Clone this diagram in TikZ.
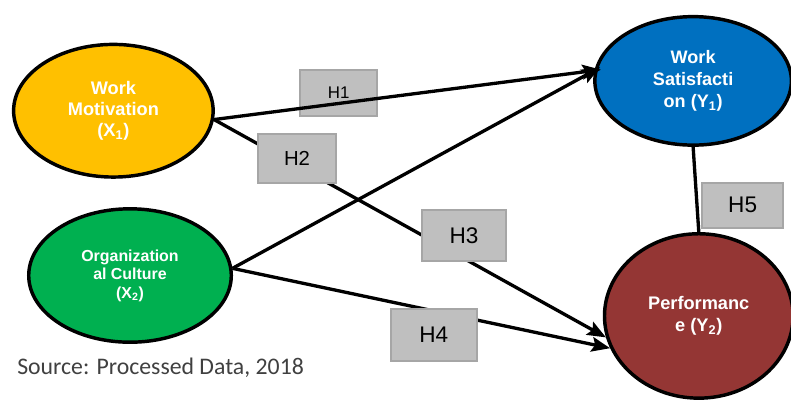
\documentclass[tikz,border=0pt]{standalone}
\usepackage{fontspec}
\setmainfont{Liberation Sans}
\newfontfamily\srcfont{Carlito}
\usetikzlibrary{shapes,arrows.meta,positioning}

\definecolor{motivcol}{HTML}{FFC000}
\definecolor{culturecol}{HTML}{00B050}
\definecolor{satiscol}{HTML}{0070C0}
\definecolor{perfcol}{HTML}{943634}
\definecolor{hypfill}{HTML}{BFBFBF}
\definecolor{hypdraw}{HTML}{A6A6A6}
\definecolor{srccol}{HTML}{404040}

\begin{document}
\begin{tikzpicture}[
    construct/.style={ellipse, draw, line width=2.6pt, text=white, align=center, inner sep=0pt},
    hyp/.style={rectangle, draw=hypdraw, line width=1.2pt, fill=hypfill, inner sep=0pt},
    effect/.style={-{Stealth[length=14pt,width=11pt,inset=2.5pt]}, line width=2.5pt},
]
    \useasboundingbox (0,0) rectangle (20.93,10.58);

    % latent variables
    \node[construct, fill=motivcol, minimum width=5.28cm, minimum height=3.51cm, font=\fontsize{13.7}{16}\selectfont\bfseries] (motiv) at (3.0,7.65) {Work\\Motivation\\(X\textsubscript{1})};
    \node[construct, fill=culturecol, minimum width=5.36cm, minimum height=3.53cm, font=\fontsize{12}{14}\selectfont\bfseries] (culture) at (3.44,3.29) {Organization\\al Culture\\(X\textsubscript{2})};
    \node[construct, fill=satiscol, minimum width=5.2cm, minimum height=3.4cm, font=\fontsize{13.6}{16.5}\selectfont\bfseries] (satis) at (18.34,8.44) {Work\\Satisfacti\\on (Y\textsubscript{1})};
    \node[construct, fill=perfcol, minimum width=4.99cm, minimum height=4.35cm, font=\fontsize{13.7}{17}\selectfont\bfseries] (perf) at (18.49,2.22) {Performanc\\e (Y\textsubscript{2})};

    % H1 sits under its line
    \node[hyp, minimum width=2.04cm, minimum height=1.22cm, font=\fontsize{12.7}{14}\selectfont] (h1) at (8.96,8.12) {H1};

    % paths
    \draw[effect, shorten >=-5pt] (motiv.-5) -- (satis.174);
    \draw[effect] (motiv.-5) -- (perf.193);
    \draw[effect, shorten >=-5pt] (culture.4) -- (satis.174);
    \draw[effect] (culture.4) -- (perf.200);
    \draw[line width=2.5pt] (satis.south) -- (perf.north);

    % remaining hypothesis labels on top
    \node[hyp, minimum width=2.06cm, minimum height=1.3cm, font=\fontsize{15.3}{17}\selectfont] (h2) at (7.86,6.39) {H2};
    \node[hyp, minimum width=2.22cm, minimum height=1.35cm, font=\fontsize{17}{19}\selectfont] (h3) at (12.28,4.35) {H3};
    \node[hyp, minimum width=2.28cm, minimum height=1.38cm, font=\fontsize{17}{19}\selectfont] (h4) at (11.48,1.72) {H4};
    \node[hyp, minimum width=2.14cm, minimum height=1.19cm, font=\fontsize{17}{19}\selectfont] (h5) at (19.65,5.15) {H5};

    \node[anchor=base west, inner sep=0pt, text=srccol, font=\srcfont\fontsize{17.9}{20}\selectfont] (source) at (0.45,0.66) {Source: Processed Data, 2018};
\end{tikzpicture}
\end{document}
